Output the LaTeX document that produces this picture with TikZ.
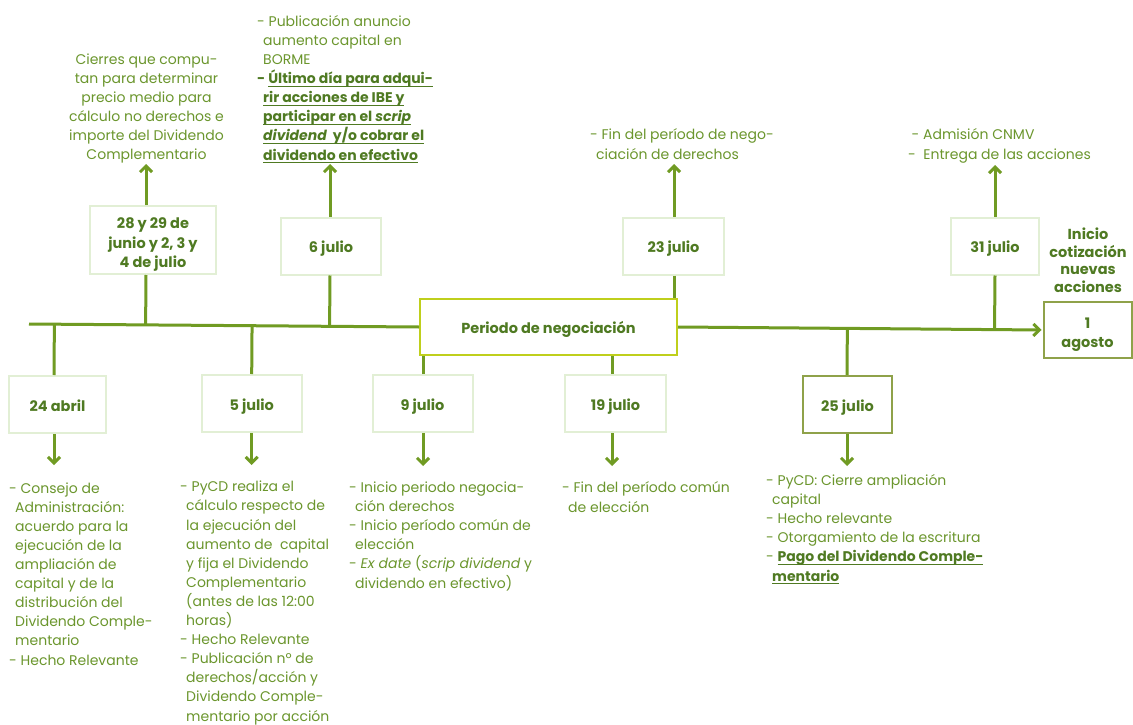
\documentclass[tikz,border=0pt]{standalone}
\usepackage{fontspec}
\setmainfont{Poppins}
\usetikzlibrary{arrows.meta,calc}
\definecolor{linec}{HTML}{709B23}
\definecolor{txtc}{HTML}{6B962D}
\definecolor{datec}{HTML}{4F7A22}
\definecolor{boxc}{HTML}{E2EFD5}
\definecolor{perc}{HTML}{BFCF1C}
\definecolor{olivec}{HTML}{8FA24A}
\newcommand\myul[1]{\setbox0\hbox{#1}\rlap{\rule[-2.8pt]{\wd0}{0.9pt}}\box0}
\newcommand\ind{\hspace*{6pt}}
\begin{document}
\begin{tikzpicture}[x=1pt,y=-1pt,
 datebox/.style={draw=boxc, line width=2pt, text=datec, font=\bfseries\fontsize{14.5}{19.5}\selectfont, align=center, inner sep=0pt, minimum height=57, text height=13.5pt, text depth=0pt},
 txt/.style={text=txtc, font=\fontsize{14}{19.1}\selectfont, inner sep=0pt, align=left, anchor=base west},
 conn/.style={draw=linec, line width=3pt},
 arr/.style={conn, -{Straight Barb[length=6pt,width=12pt]}}]
\useasboundingbox (0,0) rectangle (1133,725);
\fill[white] (0,0) rectangle (1133,725);

% date boxes
\node[datebox, minimum width=126, minimum height=68, text height=55pt] (b28) at (153,240) {28 y 29 de\\junio y 2, 3 y\\4 de julio};
\node[datebox, minimum width=100] (b6) at (331,246) {6 julio};
\node[datebox, draw=perc, minimum width=257, minimum height=56] (bper) at (548.5,327) {Periodo de negociación};
\node[datebox, minimum width=101] (b23) at (673.5,246) {23 julio};
\node[datebox, minimum width=88] (b31) at (995,246) {31 julio};
\node[datebox, draw=olivec, minimum width=88, minimum height=56, text height=34pt, font=\bfseries\fontsize{14.5}{19}\selectfont] (b1ag) at (1087.5,330) {1\\agosto};
\node[datebox, minimum width=97] (b24) at (57.5,404.5) {24 abril};
\node[datebox, minimum width=100] (b5) at (251.7,403.5) {5 julio};
\node[datebox, minimum width=100] (b9) at (422.5,403.5) {9 julio};
\node[datebox, minimum width=101] (b19) at (615.5,403.5) {19 julio};
\node[datebox, draw=olivec, minimum width=89] (b25) at (847.5,404.4) {25 julio};

\node[text=datec, font=\bfseries\fontsize{14.5}{17.4}\selectfont, align=center, inner sep=0pt, anchor=base] (tini) at (1088,292) {Inicio\\cotización\\nuevas\\acciones};

% texts above (anchored at the baseline of their last line)
\node[txt, align=center, anchor=base] (t28) at (146.5,159.5) {Cierres que compu-\\tan para determinar\\precio medio para\\cálculo no derechos e\\importe del Dividendo\\Complementario};
\node[txt] (t6) at (257,160) {- Publicación anuncio\\
\ind aumento capital en\\
\ind BORME\\
\textbf{\color{datec}- \myul{Último día para adqui-}}\\
\textbf{\color{datec}\ind\myul{rir acciones de IBE y}}\\
\textbf{\color{datec}\ind\myul{participar en el \textit{scrip}}}\\
\textbf{\color{datec}\ind\myul{\textit{dividend}\ \ y/o cobrar el}}\\
\textbf{\color{datec}\ind\myul{dividendo en efectivo}}};
\node[txt] (t23) at (590,159) {- Fin del período de nego-\\\ind ciación de derechos};
\node[txt] (t31) at (908,159) {\hspace*{3.5pt}- Admisión CNMV\\-\ \ Entrega de las acciones};

% texts below (anchored at the baseline of their last line)
\node[txt] (t24) at (9,665) {- Consejo de\\\ind Administración:\\\ind acuerdo para la\\\ind ejecución de la\\\ind ampliación de\\\ind capital y de la\\\ind distribución del\\\ind Dividendo Comple-\\\ind mentario\\- Hecho Relevante};
\node[txt] (t5) at (180,721) {- PyCD realiza el\\\ind cálculo respecto de\\\ind la ejecución del\\\ind aumento de\ \ capital\\\ind y fija el Dividendo\\\ind Complementario\\\ind (antes de las 12:00\\\ind horas)\\- Hecho Relevante\\- Publicación nº de\\\ind derechos/acción y\\\ind Dividendo Comple-\\\ind mentario por acción};
\node[txt] (t9) at (349,588) {- Inicio periodo negocia-\\\ind ción derechos\\- Inicio período común de\\\ind elección\\- \textit{Ex date} (\textit{scrip dividend} y\\\ind dividendo en efectivo)};
\node[txt] (t19) at (562,512) {- Fin del período común\\\ind de elección};
\node[txt] (t25) at (766,581) {- PyCD: Cierre ampliación\\\ind capital\\- Hecho relevante\\- Otorgamiento de la escritura\\- \textbf{\color{datec}\myul{Pago del Dividendo Comple-}}\\\ind\textbf{\color{datec}\myul{mentario}}};

% main line
\coordinate (mL) at (29,324);
\draw[conn] (mL) -- (bper.west);
\draw[arr, shorten >=1pt] (bper.east) -- (b1ag.west);

% connection points
\coordinate (k28) at ($(b28.south)+(-7,0)$);
\coordinate (k6) at ($(b6.south)+(-1,0)$);
\coordinate (k23) at ($(b23.south)+(0.5,0)$);
\coordinate (k31) at (b31.south);
\coordinate (k24) at ($(b24.north)+(-3.5,0)$);
\coordinate (k5) at (b5.north);
\coordinate (k9) at ($(b9.north)+(0.5,0)$);
\coordinate (k19) at ($(b19.north)+(-3.5,0)$);
\coordinate (k25) at ($(b25.north)+(-0.5,0)$);

\draw[conn] (k28) -- ($(mL)!(k28)!(bper.west)$);
\draw[conn] (k6) -- ($(mL)!(k6)!(bper.west)$);
\draw[conn] (k23) -- (k23 |- bper.north);
\draw[conn] (k31) -- ($(bper.east)!(k31)!(b1ag.west)$);
\draw[conn] (k24) -- ($(mL)!(k24)!(bper.west)$);
\draw[conn] (k5) -- ($(mL)!(k5)!(bper.west)$);
\draw[conn] (k9) -- (k9 |- bper.south);
\draw[conn] (k19) -- (k19 |- bper.south);
\draw[conn] (k25) -- ($(bper.east)!(k25)!(b1ag.west)$);

% arrows to texts
\coordinate (a28) at (146,164);
\coordinate (a6) at (330,164);
\coordinate (a23) at (674,164);
\coordinate (a31) at (995,165);
\coordinate (a24) at (54,465);
\coordinate (a5) at (251.7,465);
\coordinate (a9) at (423,466);
\coordinate (a19) at (612,466);
\coordinate (a25) at (847,466);
\draw[arr] (k28 |- b28.north) -- (a28);
\draw[arr] (k6 |- b6.north) -- (a6);
\draw[arr] (k23 |- b23.north) -- (a23);
\draw[arr] (b31.north) -- (a31);
\draw[arr] (k24 |- b24.south) -- (a24);
\draw[arr] (b5.south) -- (a5);
\draw[arr] (k9 |- b9.south) -- (a9);
\draw[arr] (k19 |- b19.south) -- (a19);
\draw[arr] (k25 |- b25.south) -- (a25);
\end{tikzpicture}
\end{document}
